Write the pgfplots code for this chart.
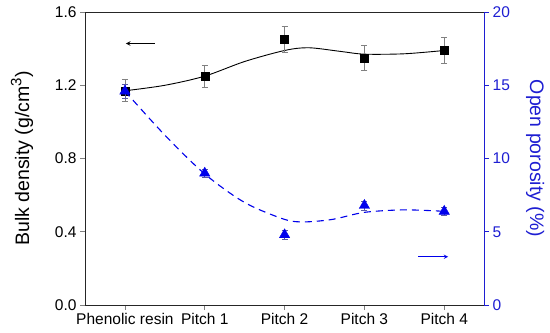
\documentclass[border=0pt]{standalone}
\usepackage{fontspec}
\setmainfont{Liberation Sans}
\usepackage{pgfplots}
\pgfplotsset{compat=1.18}
\definecolor{myblue}{RGB}{0,0,235}
\definecolor{axblue}{RGB}{30,30,210}
\begin{document}
\begin{tikzpicture}
\pgfplotsset{
  common/.style={
    scale only axis, width=399pt, height=293pt,
    xmin=-0.5, xmax=4.5,
    /pgf/number format/assume math mode=true,
    tick align=outside, major tick length=5pt,
    tick style={line width=0.8pt},
    ticklabel style={font=\fontsize{15.5}{18}\selectfont},
    label style={font=\fontsize{19.5}{23}\selectfont},
  }
}
\begin{axis}[common,
  ymin=0, ymax=1.6,
  ytick={0,0.4,0.8,1.2,1.6},
  yticklabel style={/pgf/number format/.cd, fixed, fixed zerofill, precision=1},
  xtick={0,1,2,3,4},
  xticklabels={Phenolic resin, Pitch 1, Pitch 2, Pitch 3, Pitch 4},
  xtick pos=bottom, ytick pos=left,
  axis line style={line width=0.8pt, black!85},
  ylabel={Bulk density (g/cm\raisebox{0.75ex}{\fontsize{15}{15}\selectfont 3})},
  ylabel style={at={(axis description cs:-0.158,0.5)}, anchor=center},
  clip=false,
]
\path (axis description cs:-0.213,-0.092) -- (axis description cs:1.165,1.041);
% fitted curve
\addplot[black, line width=0.9pt, smooth, no marks] coordinates {
  (0,1.17) (0.5,1.20) (1,1.25) (1.5,1.33) (2,1.39) (2.3,1.405) (2.7,1.385) (3,1.37) (3.5,1.372) (4,1.39)
};
\addplot[only marks, mark=square*, mark size=4pt, black,
  error bars/.cd, y dir=both, y explicit,
  error bar style={gray, line width=0.7pt},
  error mark options={rotate=90, mark size=3pt, gray, line width=0.7pt}]
  coordinates {
  (0,1.17) +- (0,0.06)
  (1,1.25) +- (0,0.06)
  (2,1.45) +- (0,0.07)
  (3,1.35) +- (0,0.07)
  (4,1.39) +- (0,0.07)
};
\draw[-stealth, line width=1pt, black] (axis cs:0.375,1.428) -- (axis cs:0.0125,1.428);
\end{axis}
\begin{axis}[common,
  ymin=0, ymax=20,
  ytick={0,5,10,15,20},
  axis x line=none,
  axis y line*=right,
  y axis line style={axblue, line width=0.8pt},
  ytick style={axblue, line width=0.8pt},
  yticklabel style={axblue},
  ylabel={Open porosity (\%)},
  ylabel style={axblue, at={(axis description cs:1.128,0.5)}, anchor=center, rotate=180},
  clip=false,
]
\addplot[myblue, line width=1.1pt, dash pattern=on 7pt off 5pt, smooth, no marks] coordinates {
  (0,14.6) (0.5,11.6) (1,8.95) (1.5,7.0) (2,5.85) (2.25,5.68) (2.6,5.85) (3,6.33) (3.5,6.5) (4,6.4)
};
\addplot[only marks, mark=triangle*, mark size=6pt, myblue,
  error bars/.cd, y dir=both, y explicit,
  error bar style={gray!70!blue, line width=0.6pt},
  error mark options={rotate=90, mark size=3pt, gray!70!blue, line width=0.6pt}]
  coordinates {
  (0,14.6) +- (0,0.5)
  (1,9.0) +- (0,0.3)
  (2,4.8) +- (0,0.3)
  (3,6.8) +- (0,0.3)
  (4,6.4) +- (0,0.3)
};
\draw[-stealth, line width=1pt, myblue] (axis cs:3.675,3.3) -- (axis cs:4.05,3.3);
\end{axis}
\end{tikzpicture}
\end{document}
